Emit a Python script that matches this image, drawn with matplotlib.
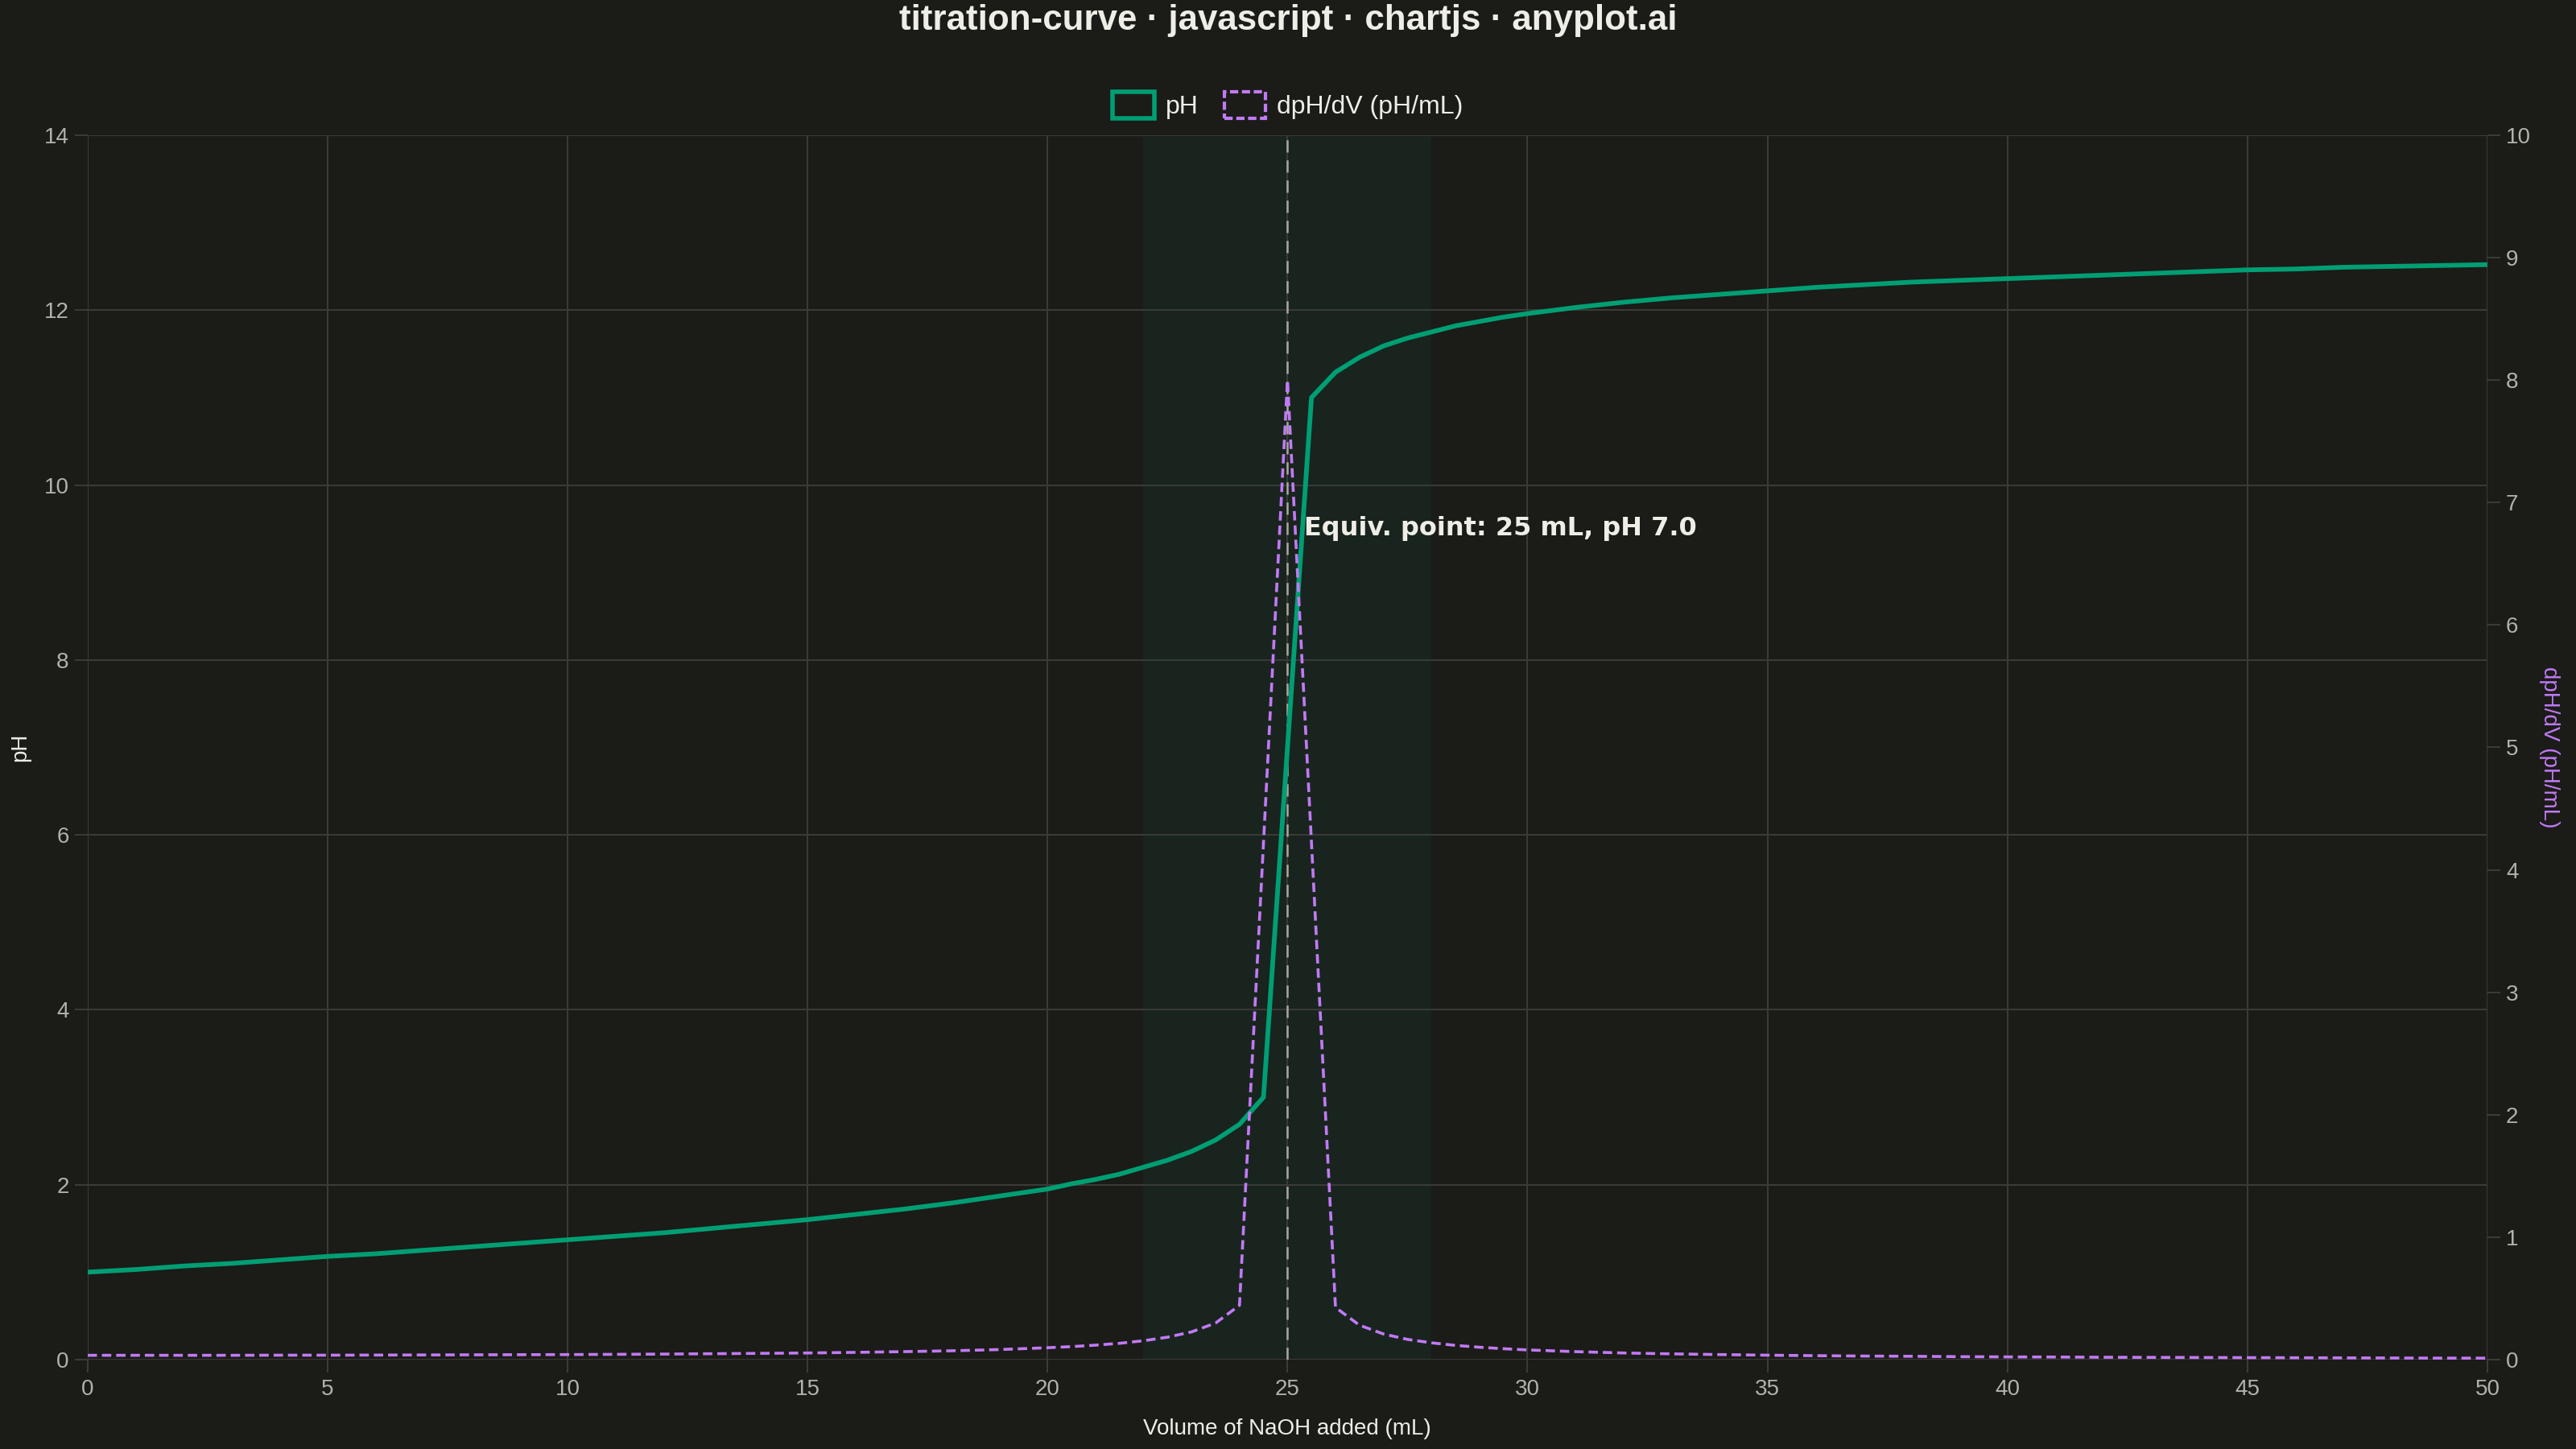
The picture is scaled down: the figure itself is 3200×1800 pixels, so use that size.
import matplotlib
matplotlib.use("Agg")
import matplotlib.pyplot as plt
from matplotlib.patches import Patch

# volume of NaOH added (mL)
volume = [0, 1, 2, 3, 4, 5, 6, 7, 8, 9, 10, 11, 12, 13, 14, 15, 16, 17, 18, 19,
          20, 20.5, 21, 21.5, 22, 22.5, 23, 23.5, 24, 24.5, 25, 25.5, 26, 26.5,
          27, 27.5, 28, 28.5, 29, 29.5, 30, 31, 32, 33, 34, 35, 36, 37, 38, 39,
          40, 41, 42, 43, 44, 45, 46, 47, 48, 49, 50]

# pH
ph = [1.00, 1.03, 1.07, 1.10, 1.14, 1.18, 1.21, 1.25, 1.29, 1.33, 1.37, 1.41,
      1.45, 1.50, 1.55, 1.60, 1.66, 1.72, 1.79, 1.87,
      1.95, 2.01, 2.06, 2.12, 2.20, 2.28, 2.38, 2.51, 2.69, 3.00, 7.00, 11.00,
      11.29, 11.46, 11.59, 11.68, 11.75, 11.82, 11.87, 11.92, 11.96,
      12.03, 12.09, 12.14, 12.18, 12.22, 12.26, 12.29, 12.32, 12.34, 12.36,
      12.38, 12.40, 12.42, 12.44, 12.46, 12.47, 12.49, 12.50, 12.51, 12.52]

# first derivative dpH/dV (pH/mL)
dph_dv = [0.035, 0.035, 0.035, 0.035, 0.036, 0.036, 0.037, 0.038, 0.039, 0.040,
          0.041, 0.043, 0.045, 0.048, 0.051, 0.054, 0.059, 0.065, 0.072, 0.082,
          0.097, 0.106, 0.118, 0.133, 0.154, 0.183, 0.226, 0.298, 0.443, 4.22,
          8.00, 4.22, 0.426, 0.281, 0.209, 0.165, 0.137, 0.116, 0.101, 0.089,
          0.079, 0.065, 0.054, 0.047, 0.041, 0.036, 0.032, 0.029, 0.027, 0.024,
          0.022, 0.021, 0.019, 0.018, 0.017, 0.016, 0.015, 0.014, 0.013, 0.012,
          0.012]

equiv_volume = 25
equiv_ph = 7.0
band = (22, 28)

bg = "#1b1b18"
grid_c = "#3b3b37"
tick_c = "#b3b2aa"
text_c = "#eeede6"
green = "#009e73"
purple = "#c17af5"

plt.rcParams["font.family"] = ["Liberation Sans", "DejaVu Sans"]
plt.rcParams["lines.scale_dashes"] = False

fig = plt.figure(figsize=(16, 9), dpi=200, facecolor=bg)
ax = fig.add_axes([0.034, 0.0617, 0.9316, 0.845])
ax.set_facecolor(bg)
ax2 = ax.twinx()

ax.axvspan(band[0], band[1], color="#19241f", zorder=0, lw=0)
ax.axvline(equiv_volume, color="#a9a8a0", lw=0.9, dashes=(5.5, 3.5), zorder=3)

ax.plot(volume, ph, color=green, lw=2.1, zorder=4, solid_joinstyle="round")
ax2.plot(volume, dph_dv, color=purple, lw=1.3, dashes=(4.2, 2.2), zorder=4)

ax.text(equiv_volume + 0.35, 9.5, f"Equiv. point: {equiv_volume} mL, pH {equiv_ph:.1f}",
        color=text_c, fontsize=11.5, fontweight="bold", family="DejaVu Sans",
        ha="left", va="center", zorder=6)

ax.set_xlim(0, 50)
ax.set_ylim(0, 14)
ax2.set_ylim(0, 10)
ax.set_xticks(range(0, 51, 5))
ax.set_yticks(range(0, 15, 2))
ax2.set_yticks(range(0, 11, 1))

ax.grid(True, color=grid_c, lw=0.7)
ax.set_axisbelow(True)
for a in (ax, ax2):
    for s in a.spines.values():
        s.set_visible(False)
ax.tick_params(axis="both", colors=grid_c, labelcolor=tick_c, labelsize=10,
               length=5.8, width=0.7)
ax.tick_params(axis="y", pad=2.5)
ax.tick_params(axis="x", pad=3)
ax2.tick_params(axis="y", colors=grid_c, labelcolor=tick_c, labelsize=10,
                length=5.8, width=0.7, pad=2.5)

ax.set_xlabel("Volume of NaOH added (mL)", color=text_c, fontsize=10, labelpad=8)
ax.set_ylabel("pH", color=text_c, fontsize=10, labelpad=6)
ax2.set_ylabel("dpH/dV (pH/mL)", color=purple, fontsize=10, rotation=270, labelpad=13)

fig.text(0.5, 0.986, "titration-curve · javascript · chartjs · anyplot.ai",
         color=text_c, fontsize=15.8, fontweight="bold", ha="center", va="center")

handles = [Patch(facecolor="none", edgecolor=green, lw=2.0, label="pH"),
           Patch(facecolor="none", edgecolor=purple, lw=1.5, linestyle="--",
                 label="dpH/dV (pH/mL)")]
leg = fig.legend(handles=handles, loc="center", bbox_to_anchor=(0.5, 0.927), ncol=2,
                 frameon=False, fontsize=11.5, handlelength=1.6, handleheight=1.2,
                 handletextpad=0.45, columnspacing=1.0)
for t in leg.get_texts():
    t.set_color(text_c)

fig.savefig("out.png", dpi=200, facecolor=bg)
